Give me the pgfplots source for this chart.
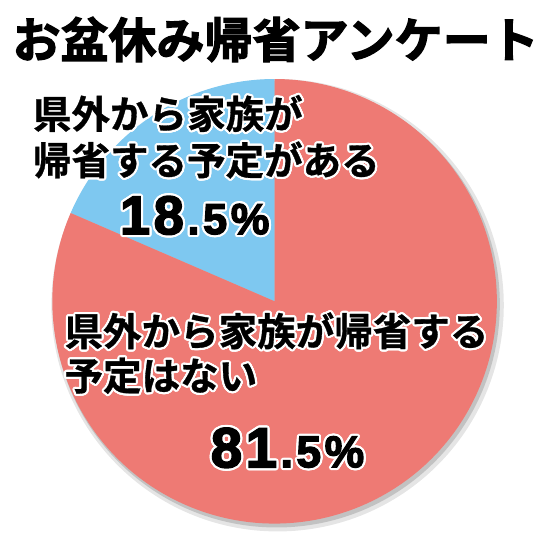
\documentclass[border=0pt]{standalone}
\usepackage{pgfplots}
\pgfplotsset{compat=1.18}
\usepackage{pgfplotstable}
\usepackage{fontspec}
\usepackage{contour}
\newfontfamily\jplabel{Noto Sans CJK JP Bold}[FakeBold=0.8]
\newfontfamily\jptitle{Noto Sans CJK JP Bold}[FakeBold=2.4]
\newfontfamily\digits{Liberation Sans Bold}[FakeBold=3]
\contourlength{1.1pt}
\contournumber{16}

\definecolor{pieRed}{HTML}{EE7A74}
\definecolor{pieBlue}{HTML}{7EC8F0}

% share of answers, percent
\pgfplotstableread{
answer value
yes    18.5
no     81.5
}\piedata

\pgfplotstablegetelem{0}{value}\of\piedata
\pgfmathsetmacro\angYes{90+3.6*\pgfplotsretval}

\newcommand\gap{\kern1.8pt}

\begin{document}
\begin{tikzpicture}
\begin{axis}[
  width=277pt, height=277pt,
  scale only axis,
  xmin=0, xmax=554, ymin=0, ymax=554,
  hide axis,
  clip=false,
]
\path[fill=white] (axis cs:0,0) rectangle (axis cs:554,554);

% soft shadow
\fill[black, opacity=0.10] (axis cs:281,245) circle[radius=114.5pt];
\fill[black, opacity=0.15] (axis cs:280,246) circle[radius=113pt];

% wedges
\fill[pieBlue] (axis cs:278,249) -- ++(90:112.5pt)
  arc[start angle=90, end angle=\angYes, radius=112.5pt] -- cycle;
\fill[pieRed] (axis cs:278,249) -- ++(\angYes:112.5pt)
  arc[start angle=\angYes, end angle=450, radius=112.5pt] -- cycle;

% title
\node[anchor=center, inner sep=0pt] at (axis cs:279,514)
  {\jptitle\fontsize{24.3pt}{24pt}\selectfont お盆休み帰省アンケート};

% labels
\node[anchor=base west, inner sep=0pt] at (axis cs:33,424)
  {\jplabel\fontsize{19.5pt}{19.5pt}\selectfont\contour{white}{県外から家族が}};
\node[anchor=base west, inner sep=0pt] at (axis cs:33,377)
  {\jplabel\fontsize{19.5pt}{19.5pt}\selectfont\contour{white}{帰省する予定がある}};
\node[anchor=base west, inner sep=0pt] at (axis cs:121,317)
  {\digits\contour{white}{\fontsize{27.5pt}{27.5pt}\selectfont 1\gap8\gap\fontsize{22pt}{22pt}\selectfont.\gap5\gap\%}};

\node[anchor=base west, inner sep=0pt] at (axis cs:65,204)
  {\jplabel\fontsize{19.5pt}{19.5pt}\selectfont\contour{white}{県外から家族が帰省する}};
\node[anchor=base west, inner sep=0pt] at (axis cs:65,159)
  {\jplabel\fontsize{19.5pt}{19.5pt}\selectfont\contour{white}{予定はない}};
\node[anchor=base west, inner sep=0pt] at (axis cs:213,81)
  {\digits\contour{white}{\fontsize{28.5pt}{28.5pt}\selectfont 8\gap1\gap\fontsize{22.5pt}{22.5pt}\selectfont.\gap5\gap\%}};
\end{axis}
\end{tikzpicture}
\end{document}
